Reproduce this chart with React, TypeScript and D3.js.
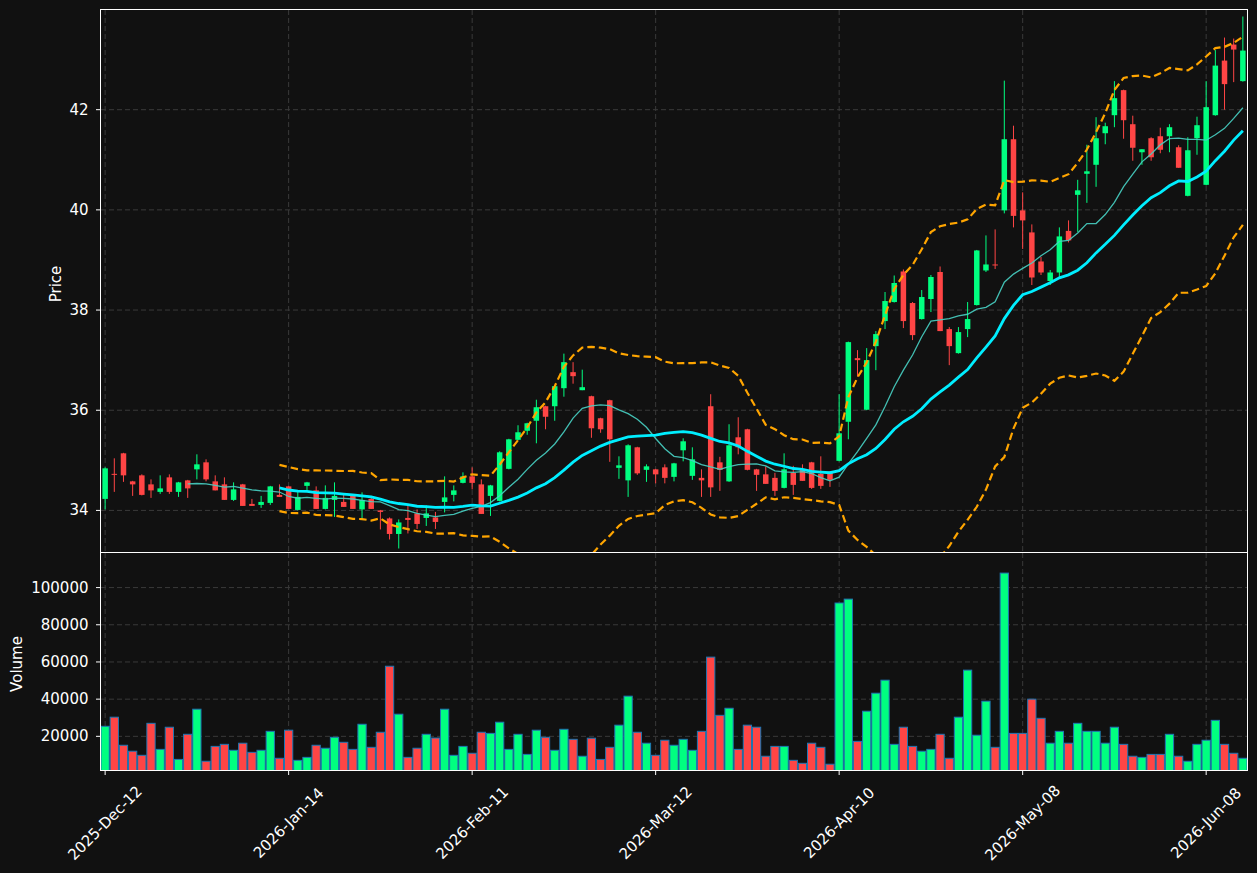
import React from "react";
import * as d3 from "d3";

const opens = [34.23,34.73,35.14,34.58,34.70,34.52,34.37,34.66,34.37,34.60,
34.82,34.96,34.58,34.52,34.21,34.52,34.13,34.11,34.15,34.31,
34.48,34.01,34.49,34.40,34.03,34.21,34.17,34.31,34.02,34.23,
34.00,33.84,33.53,33.85,33.94,33.85,33.86,34.17,34.31,34.55,
34.68,34.52,34.29,34.19,34.83,35.41,35.59,35.79,36.08,36.08,
36.44,36.76,36.40,36.28,35.84,36.20,34.85,34.60,35.26,34.81,
34.82,34.86,34.67,35.20,34.69,34.65,36.08,34.96,34.58,35.46,
35.62,34.82,34.72,34.65,34.45,34.75,34.83,34.96,34.73,34.77,
34.99,35.77,37.04,36.01,37.28,37.78,38.16,38.77,38.14,37.82,
38.22,38.76,37.62,37.14,37.62,38.10,38.79,38.91,39.99,41.41,
39.99,39.55,38.97,38.58,38.75,39.58,40.30,40.72,40.90,41.53,
41.89,42.39,41.71,41.15,41.43,41.47,41.47,41.25,40.28,41.43,
40.50,41.89,42.98,43.30,42.57];

const highs = [34.86,35.04,35.15,34.59,34.72,34.62,34.70,34.72,34.57,34.61,
35.12,35.02,34.70,34.66,34.56,34.53,34.23,34.29,34.49,34.52,
34.49,34.40,34.57,34.48,34.50,34.56,34.33,34.32,34.36,34.29,
34.01,33.86,33.82,34.09,34.02,34.10,33.97,34.68,34.50,34.76,
34.86,34.62,34.51,35.18,35.43,35.70,35.75,36.21,36.09,36.49,
37.13,36.96,36.81,36.29,35.85,36.21,35.08,35.32,35.27,34.92,
34.83,34.92,34.95,35.44,35.26,34.82,36.32,35.07,35.72,35.86,
35.63,34.83,34.88,34.75,35.14,34.89,34.92,34.97,35.08,34.78,
36.32,37.37,37.20,37.24,37.58,38.36,38.69,38.81,38.16,38.40,
38.70,38.87,37.66,37.66,38.16,39.20,39.49,39.61,42.58,41.68,
40.35,39.71,39.06,38.80,39.65,39.79,40.60,41.30,41.85,41.74,
42.57,42.40,41.88,41.21,41.45,41.64,41.71,41.29,41.45,41.86,
42.57,43.19,43.44,43.42,43.86];

const lows = [34.02,34.37,34.57,34.29,34.30,34.25,34.33,34.33,34.27,34.25,
34.62,34.58,34.40,34.21,34.19,34.09,34.09,34.05,34.11,34.27,
34.03,34.00,34.37,34.03,34.02,33.87,34.07,34.03,33.82,34.03,
33.62,33.42,33.24,33.54,33.63,33.69,33.63,33.96,34.18,34.54,
34.42,33.93,33.89,34.18,34.82,35.40,35.51,35.34,35.62,35.79,
36.27,36.53,36.40,35.45,35.55,34.97,34.63,34.27,34.71,34.57,
34.54,34.54,34.58,34.98,34.61,34.27,34.27,34.39,34.57,35.12,
34.80,34.39,34.53,34.29,34.44,34.31,34.59,34.43,34.43,34.47,
34.98,35.42,36.67,36.00,36.80,37.62,38.15,37.64,37.40,37.81,
37.96,37.58,36.90,37.13,37.46,38.09,38.76,38.82,39.93,39.65,
39.22,38.50,38.70,38.50,38.62,39.35,39.56,40.14,40.46,41.31,
41.65,41.42,40.98,40.90,40.98,41.13,41.15,40.84,40.27,41.10,
40.49,41.88,42.00,42.55,42.56];

const closes = [34.84,34.71,34.70,34.52,34.31,34.40,34.44,34.37,34.56,34.44,
34.92,34.62,34.40,34.21,34.42,34.09,34.09,34.17,34.48,34.27,
34.03,34.27,34.56,34.03,34.25,34.29,34.07,34.03,34.21,34.03,
33.97,33.53,33.76,33.81,33.73,33.94,33.77,34.26,34.40,34.68,
34.55,33.93,34.50,35.16,35.42,35.56,35.74,36.06,35.87,36.48,
36.96,36.68,36.46,35.64,35.62,35.42,34.90,35.30,34.74,34.88,
34.72,34.65,34.94,35.38,35.02,34.60,34.46,34.81,35.30,35.26,
34.81,34.71,34.53,34.39,34.82,34.51,34.59,34.45,34.49,34.61,
35.54,37.36,37.00,37.00,37.52,38.18,38.54,37.78,37.50,38.26,
38.66,37.58,37.28,37.56,37.82,39.19,38.91,38.89,41.41,39.88,
39.79,38.65,38.75,38.75,39.47,39.39,40.39,40.77,41.43,41.67,
42.23,41.79,41.24,41.21,41.05,41.20,41.65,40.84,41.19,41.69,
42.05,42.88,42.51,43.20,43.18];

const volumes = [25400,30300,15200,12000,9800,27000,13000,24900,7600,21100,
34600,6600,14600,15700,12500,16300,11400,12500,22700,8200,
23300,7100,8700,15200,13600,19500,16800,13000,26500,14100,
22200,57700,31900,8700,13600,21100,19100,34600,9800,14600,
10900,22200,21600,27600,13000,21100,10300,23300,19500,12500,
23800,18400,9300,19000,7600,14100,26000,41600,22200,16300,
9800,17900,15200,18400,12500,22700,62600,31300,35100,13000,
26000,24900,9300,14600,14600,7100,5500,16300,14100,5000,
91700,93800,17300,33500,43200,50200,15700,24900,14600,12000,
13000,21100,8200,30300,55600,20600,38900,14100,107800,21600,
21600,40000,29700,16300,22700,16300,27000,22700,22700,16300,
24900,15700,9300,8700,10300,10300,21100,9300,6600,15700,
17900,28600,15700,10900,8200];

const xTickIdx = [0, 20, 40, 60, 80, 100, 120];
const xTickLabels = ["2025-Dec-12", "2026-Jan-14", "2026-Feb-11", "2026-Mar-12", "2026-Apr-10", "2026-May-08", "2026-Jun-08"];
const priceTicks = [34, 36, 38, 40, 42];
const volumeTicks = [20000, 40000, 60000, 80000, 100000];

const UP = "#00ff80";
const DOWN = "#ff4545";
const BG = "#111111";
const GRID = "#3a3a3a";
const FONT = "DejaVu Sans";

function rollingMean(arr: number[], n: number): (number | null)[] {
  return arr.map((_, i) => (i < n - 1 ? null : d3.mean(arr.slice(i - n + 1, i + 1)) as number));
}
function rollingStd(arr: number[], n: number): (number | null)[] {
  return arr.map((_, i) => (i < n - 1 ? null : d3.deviation(arr.slice(i - n + 1, i + 1)) as number));
}

export default function App() {
  const L = 101, R = 1247, PT = 10, PB = 553, VB = 770;
  const x = d3.scaleLinear().domain([-0.45, 124.45]).range([L, R]);
  const yP = d3.scaleLinear().domain([33.15, 43.99]).range([PB, PT]);
  const yV = d3.scaleLinear().domain([1900, 118600]).range([VB, PB]);
  const step = x(1) - x(0);
  const bodyW = 5.5;
  const volW = step * 0.9;

  const ma10 = rollingMean(closes, 10);
  const ma20 = rollingMean(closes, 20);
  const sd20 = rollingStd(closes, 20);
  const upper = ma20.map((m, i) => (m == null ? null : m + 2 * (sd20[i] as number)));
  const lower = ma20.map((m, i) => (m == null ? null : m - 2 * (sd20[i] as number)));

  const line = d3
    .line<number | null>()
    .defined((d) => d != null)
    .x((_, i) => x(i))
    .y((d) => yP(d as number));

  const idx = d3.range(closes.length);
  const priceLabelY = 284;

  return (
    <svg width={1257} height={873} style={{ position: "absolute", left: 0, top: 0, background: BG }} fontFamily={FONT}>
      <defs>
        <clipPath id="clipP">
          <rect x={L} y={PT} width={R - L} height={PB - PT} />
        </clipPath>
        <clipPath id="clipV">
          <rect x={L} y={PB} width={R - L} height={VB - PB} />
        </clipPath>
      </defs>
      <rect x={0} y={0} width={1257} height={873} fill={BG} />

      {/* grids */}
      <g stroke={GRID} strokeWidth={1} strokeDasharray="5,3">
        {xTickIdx.map((t) => (
          <line key={"gp" + t} x1={x(t)} x2={x(t)} y1={PT} y2={PB} />
        ))}
        {xTickIdx.map((t) => (
          <line key={"gv" + t} x1={x(t)} x2={x(t)} y1={PB} y2={VB} />
        ))}
        {priceTicks.map((t) => (
          <line key={"hp" + t} x1={L} x2={R} y1={yP(t)} y2={yP(t)} />
        ))}
        {volumeTicks.map((t) => (
          <line key={"hv" + t} x1={L} x2={R} y1={yV(t)} y2={yV(t)} />
        ))}
      </g>

      {/* candles */}
      <g clipPath="url(#clipP)">
        {idx.map((i) => {
          const up = closes[i] >= opens[i];
          const c = up ? UP : DOWN;
          const top = yP(Math.max(opens[i], closes[i]));
          const bot = yP(Math.min(opens[i], closes[i]));
          return (
            <g key={"c" + i}>
              <line x1={x(i)} x2={x(i)} y1={yP(highs[i])} y2={yP(lows[i])} stroke={c} strokeWidth={1} />
              <rect x={x(i) - bodyW / 2} y={top} width={bodyW} height={Math.max(1, bot - top)} fill={c} />
            </g>
          );
        })}
        <path d={line(ma10) || ""} fill="none" stroke="#48d1c4" strokeWidth={1.3} opacity={0.9} />
        <path d={line(ma20) || ""} fill="none" stroke="#00eeff" strokeWidth={2.8} />
        <path d={line(upper) || ""} fill="none" stroke="#ffa500" strokeWidth={2.2} strokeDasharray="7.5,4" />
        <path d={line(lower) || ""} fill="none" stroke="#ffa500" strokeWidth={2.2} strokeDasharray="7.5,4" />
      </g>

      {/* volume */}
      <g clipPath="url(#clipV)">
        {idx.map((i) => {
          const up = closes[i] >= opens[i];
          const top = yV(volumes[i]);
          return (
            <rect
              key={"v" + i}
              x={x(i) - volW / 2}
              y={top}
              width={volW}
              height={VB + 5 - top}
              fill={up ? UP : DOWN}
              stroke="#1f77b4"
              strokeWidth={1}
            />
          );
        })}
      </g>

      {/* spines */}
      <rect x={L - 0.5} y={PT - 0.5} width={R - L + 1} height={PB - PT} fill="none" stroke="#ffffff" strokeWidth={1} />
      <rect x={L - 0.5} y={PB - 0.5} width={R - L + 1} height={VB - PB + 1} fill="none" stroke="#ffffff" strokeWidth={1} />

      {/* ticks and labels */}
      <g fill="#ffffff" fontSize={15}>
        {priceTicks.map((t) => (
          <g key={"pt" + t}>
            <line x1={L - 5} x2={L} y1={yP(t)} y2={yP(t)} stroke="#ffffff" />
            <text x={88.5} y={yP(t)} textAnchor="end" dominantBaseline="central">
              {t}
            </text>
          </g>
        ))}
        {volumeTicks.map((t) => (
          <g key={"vt" + t}>
            <line x1={L - 5} x2={L} y1={yV(t)} y2={yV(t)} stroke="#ffffff" />
            <text x={88.5} y={yV(t)} textAnchor="end" dominantBaseline="central">
              {t}
            </text>
          </g>
        ))}
        {xTickIdx.map((t, k) => (
          <g key={"xt" + t}>
            <line x1={x(t)} x2={x(t)} y1={VB} y2={VB + 5} stroke="#ffffff" />
            <text
              x={x(t)}
              y={823}
              textAnchor="middle"
              dominantBaseline="central"
              transform={`rotate(-45, ${x(t)}, 823)`}
            >
              {xTickLabels[k]}
            </text>
          </g>
        ))}
        <text x={56} y={priceLabelY} textAnchor="middle" dominantBaseline="central" transform={`rotate(-90, 56, ${priceLabelY})`}>
          Price
        </text>
        <text x={17} y={664} textAnchor="middle" dominantBaseline="central" transform={`rotate(-90, 17, 664)`}>
          Volume
        </text>
      </g>
    </svg>
  );
}
